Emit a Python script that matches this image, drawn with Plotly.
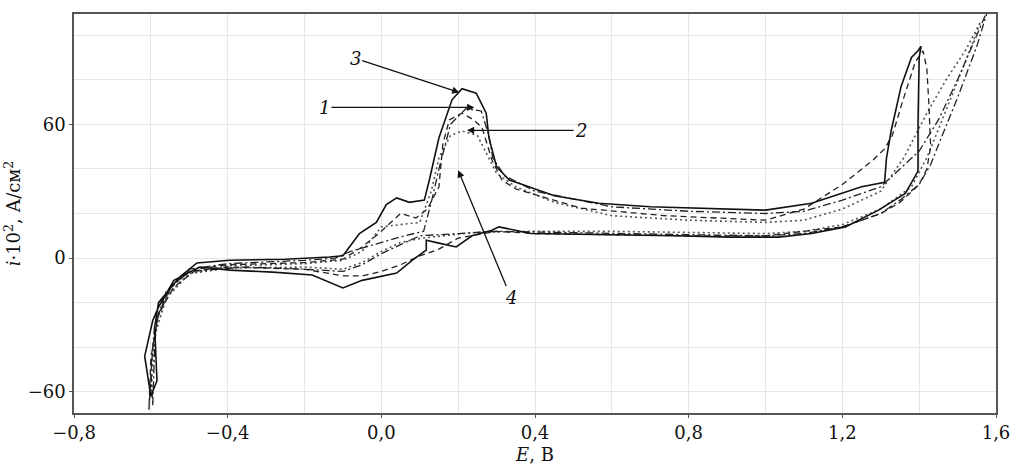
import plotly.graph_objects as go

# Curve 3 (solid)
E3 = [-0.60, -0.584, -0.59, -0.58, -0.525, -0.48, -0.395, -0.25, -0.135, -0.10, -0.057, -0.013, 0.013, 0.04, 0.073,
      0.112, 0.125, 0.15, 0.184, 0.21, 0.247, 0.273, 0.28, 0.30, 0.333, 0.358, 0.45, 0.566, 0.70, 0.826, 1.0,
      1.12, 1.25, 1.31, 1.315, 1.327, 1.353, 1.38, 1.397, 1.405,
      1.40, 1.397, 1.397, 1.364, 1.294, 1.208, 1.12, 1.034, 0.912, 0.76, 0.61, 0.39, 0.306, 0.288, 0.236, 0.195,
      0.15, 0.117, 0.117, 0.08, 0.04, -0.05, -0.10, -0.135, -0.18, -0.283, -0.395, -0.473, -0.54, -0.58, -0.595,
      -0.616, -0.60]
I3 = [-62, -55, -31, -20, -8.5, -2.2, -1, -0.5, 0.5, 1, 11, 16, 24, 27, 25,
      26, 35, 54, 71, 76, 74, 65, 54, 41, 35, 33.6, 28, 24.6, 23, 22.4, 21.5,
      24.6, 32, 34, 45, 57, 77, 90, 93, 95,
      90, 60, 39, 29, 21.5, 14, 11, 9.4, 9.4, 10, 10.3, 11, 14, 12.5, 10, 5,
      6.7, 8, 3.6, -1, -6.7, -10, -13.4, -11, -7.6, -6.3, -5.4, -4, -10, -22, -28,
      -44, -62]

# Curve 1 (dash-dot)
E1 = [-0.595, -0.59, -0.585, -0.55, -0.50, -0.40, -0.20, -0.12, -0.08, 0.0, 0.06, 0.11, 0.13, 0.15, 0.18, 0.22,
      0.26, 0.28, 0.29, 0.32, 0.40, 0.60, 0.80, 1.0, 1.1, 1.2, 1.3, 1.35, 1.40, 1.45, 1.50, 1.55, 1.58,
      1.55, 1.50, 1.46, 1.43, 1.40, 1.35, 1.30, 1.20, 1.10, 1.0, 0.80, 0.60, 0.40, 0.30, 0.20, 0.10, 0.05,
      0.0, -0.05, -0.10, -0.20, -0.35, -0.50, -0.56, -0.59, -0.60, -0.595]
I1 = [-66, -40, -28, -14, -5, -2.5, -1, 0, 3, 7, 10, 12, 25, 40, 60, 67,
      66, 55, 45, 37, 30, 23, 21, 20, 21, 26, 32, 40, 48, 62, 80, 100, 112,
      95, 72, 55, 42, 33, 26, 20, 14, 11, 10, 10.5, 11, 11.5, 12, 11, 10, 6,
      2, -3, -6, -5, -4, -6, -15, -30, -50, -66]

# Curve 2 (dashed)
E2 = [-0.605, -0.595, -0.58, -0.54, -0.48, -0.40, -0.20, -0.10, -0.05, 0.0, 0.05, 0.09, 0.12, 0.15, 0.16, 0.177,
      0.21, 0.24, 0.262, 0.288, 0.314, 0.35, 0.52, 0.74, 1.0, 1.1, 1.2, 1.28, 1.31, 1.33, 1.36, 1.39, 1.41,
      1.42, 1.425, 1.43, 1.42, 1.40, 1.35, 1.30, 1.20, 1.0, 0.80, 0.60, 0.40, 0.30, 0.20, 0.15, 0.10, 0.05,
      0.0, -0.05, -0.10, -0.20, -0.40, -0.50, -0.55, -0.58, -0.60, -0.605]
I2 = [-68, -40, -25, -13, -5, -3, -2, -0.5, 5, 12, 20, 18, 22, 32, 51, 62,
      65, 62, 58.6, 44, 35, 31, 22.4, 19, 17, 22, 33, 44, 49, 55, 72, 88, 93,
      85, 70, 50, 40, 33, 25, 20, 14, 10, 10, 10.5, 11, 12, 9, 4, 1, -3,
      -6, -8, -8, -5, -4, -6, -13, -25, -45, -68]

# Curve 4 (dotted)
E4 = [-0.60, -0.59, -0.56, -0.50, -0.40, -0.20, -0.10, -0.05, 0.0, 0.05, 0.10, 0.13, 0.15, 0.18, 0.21, 0.25,
      0.27, 0.30, 0.35, 0.45, 0.60, 0.80, 1.0, 1.1, 1.2, 1.3, 1.36, 1.42, 1.47, 1.52, 1.56,
      1.52, 1.46, 1.42, 1.38, 1.30, 1.20, 1.10, 1.0, 0.80, 0.60, 0.40, 0.25, 0.107, 0.05, 0.0, -0.05, -0.10,
      -0.20, -0.40, -0.50, -0.56, -0.59, -0.60]
I4 = [-62, -35, -18, -7, -3.5, -2.5, -1, 3, 14, 15, 16, 30, 45, 55, 57, 55,
      48, 38, 32, 25, 19, 17, 16, 17, 22, 30, 45, 65, 80, 93, 106,
      88, 62, 45, 32, 22, 15, 12, 11, 11.5, 12, 12, 11.6, 9, 7, 3, -2, -5,
      -4, -4.5, -7, -17, -35, -62]

x_ticks = [-0.8, -0.4, 0.0, 0.4, 0.8, 1.2, 1.6]
y_ticks = [-60, 0, 60]

fig = go.Figure()
fig.add_trace(go.Scatter(x=E4, y=I4, mode="lines", line=dict(color="#555555", width=1.6, dash="2px,3px")))
fig.add_trace(go.Scatter(x=E2, y=I2, mode="lines", line=dict(color="#222222", width=1.3, dash="6px,4px")))
fig.add_trace(go.Scatter(x=E1, y=I1, mode="lines", line=dict(color="#222222", width=1.3, dash="8px,3px,2px,3px")))
fig.add_trace(go.Scatter(x=E3, y=I3, mode="lines", line=dict(color="#111111", width=1.6)))

font_serif = "DejaVu Serif"
ann = [("3", -0.068, 89.6, 0.203, 74.3),
       ("1", -0.148, 67.6, 0.242, 67.6),
       ("2", 0.52, 57.3, 0.223, 57.3),
       ("4", 0.338, -17.9, 0.200, 39.4)]
for t, tx, ty, hx, hy in ann:
    fig.add_annotation(x=hx, y=hy, ax=tx, ay=ty, axref="x", ayref="y", xref="x", yref="y",
                       text="<i>%s</i>" % t, showarrow=True, arrowhead=2, arrowsize=1.1,
                       arrowwidth=1.3, arrowcolor="#111111",
                       font=dict(family=font_serif, size=18, color="#111111"))

fig.update_layout(
    width=1015, height=472,
    margin=dict(l=74, r=19, t=14, b=59, autoexpand=False),
    paper_bgcolor="white", plot_bgcolor="white",
    showlegend=False, separators=",.",
    font=dict(family=font_serif, size=18, color="#111111"),
)
fig.update_xaxes(range=[-0.8, 1.6], tickvals=x_ticks, tickformat=".1f", automargin=False,
                 showgrid=True, gridcolor="#e6e6e6", gridwidth=1,
                 minor=dict(dtick=0.2, showgrid=True, gridcolor="#e6e6e6", gridwidth=1),
                 showline=True, linecolor="#555555", linewidth=1.5, mirror=True,
                 ticks="outside", ticklen=3, tickcolor="#555555", zeroline=False,
                 title=dict(text="<i>E</i>, В", font=dict(size=18), standoff=6))
fig.update_yaxes(range=[-69.5, 109.5], tickvals=y_ticks, automargin=False,
                 showgrid=True, gridcolor="#e6e6e6", gridwidth=1,
                 minor=dict(dtick=20, tick0=0, showgrid=True, gridcolor="#e6e6e6", gridwidth=1),
                 showline=True, linecolor="#555555", linewidth=1.5, mirror=True,
                 ticks="outside", ticklen=3, tickcolor="#555555", zeroline=False,
                 title=dict(text="<i>i</i>·10<sup>2</sup>, А/см<sup>2</sup>", font=dict(size=18), standoff=2))

fig.write_html("out.html", config={"displayModeBar": False},
               post_script="document.body.style.margin='0';document.body.style.overflow='hidden';")
